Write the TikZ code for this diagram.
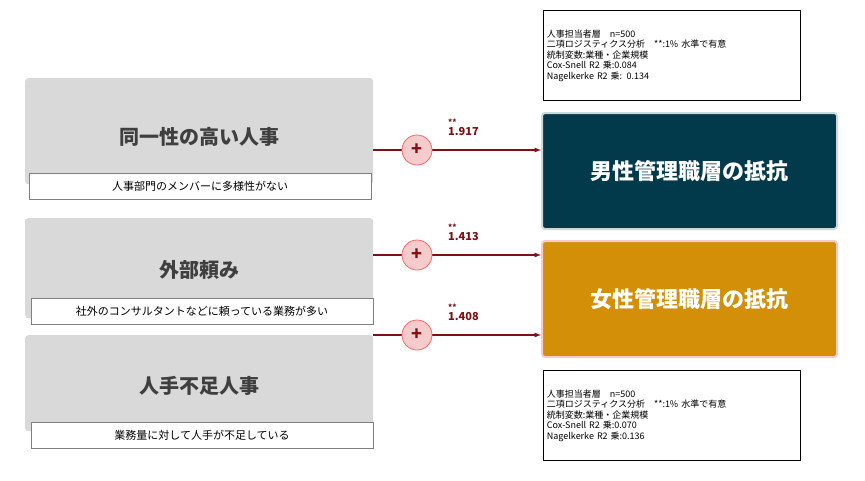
\documentclass[tikz,border=0pt]{standalone}
\usepackage{fontspec}
\setmainfont{Noto Sans CJK JP}
\usetikzlibrary{positioning}
\definecolor{FactorClr}{HTML}{D9D9D9}
\definecolor{MaleClr}{HTML}{023A4C}
\definecolor{FemaleClr}{HTML}{D38F07}
\definecolor{ArrowClr}{HTML}{7F0F14}
\definecolor{PlusClr}{HTML}{F6CBCC}
\definecolor{TitleClr}{HTML}{3F3F3F}
\tikzset{
  factor/.style={fill=FactorClr,rounded corners=3pt,minimum width=348pt,minimum height=106pt,anchor=north west},
  sub/.style={draw=gray,fill=white,minimum width=342pt,minimum height=26pt,font=\fontsize{11}{13}\selectfont},
  ftitle/.style={font=\bfseries\fontsize{20}{24}\selectfont,text=TitleClr},
  result/.style={rounded corners=3pt,minimum width=295pt,minimum height=116pt,anchor=north west,text=white,font=\bfseries\fontsize{22}{26}\selectfont},
  info/.style={draw,thick,anchor=north west,minimum width=257pt,minimum height=90pt,align=left,text width=250pt,font=\fontsize{9}{10.5}\selectfont},
  effect/.style={-latex,very thick,ArrowClr},
  plus/.style={circle,draw=red!60!white,thick,fill=PlusClr,minimum size=30pt,inner sep=0pt,text=ArrowClr,font=\bfseries\fontsize{18}{18}\selectfont},
  coef/.style={text=ArrowClr,font=\bfseries\fontsize{11}{12}\selectfont,align=left,inner sep=0pt}
}
\begin{document}
\begin{tikzpicture}[x=1pt,y=-1pt]
\useasboundingbox (0,0) rectangle (865,480);
% factors
\node[factor] (f1) at (25,78) {};
\node[factor,minimum height=100pt] (f2) at (25,218) {};
\node[factor,minimum height=96pt] (f3) at (25,335) {};
\node[ftitle] (t1) at (199,137) {同一性の高い人事};
\node[ftitle] (t2) at (199,270) {外部頼み};
\node[ftitle] (t3) at (199,386) {人手不足人事};
\node[sub] (s1) at (200,186) {人事部門のメンバーに多様性がない};
\node[sub] (s2) at (202,311) {社外のコンサルタントなどに頼っている業務が多い};
\node[sub] (s3) at (202,435) {業務量に対して人手が不足している};
% results
\node[result,fill=MaleClr,draw=MaleClr!20,line width=2pt] (m) at (541,112) {男性管理職層の抵抗};
\node[result,fill=FemaleClr,draw=PlusClr,line width=2pt] (w) at (541,240) {女性管理職層の抵抗};
\node[info] (i1) at (543,10) {人事担当者層\quad n=500\\二項ロジスティクス分析\quad **:1\% 水準で有意\\統制変数:業種・企業規模\\Cox-Snell R2 乗:0.084\\Nagelkerke R2 乗: 0.134};
\node[info] (i2) at (543,370) {人事担当者層\quad n=500\\二項ロジスティクス分析\quad **:1\% 水準で有意\\統制変数:業種・企業規模\\Cox-Snell R2 乗:0.070\\Nagelkerke R2 乗:0.136};
% effects
\coordinate (a1) at (373,150); \coordinate (b1) at (541,150);
\coordinate (a2) at (373,255); \coordinate (b2) at (541,255);
\coordinate (a3) at (373,335); \coordinate (b3) at (541,335);
\foreach \i/\v in {1/1.917,2/1.413,3/1.408}{
  \draw[effect] (a\i) -- (b\i);
  \node[plus] (p\i) at ([xshift=44pt]a\i) {+};
  \node[coef,above right=3pt and 20pt of p\i.north east,anchor=south west] (c\i) {\fontsize{8}{6}\selectfont **\\[-2pt]\v};
}
\end{tikzpicture}
\end{document}
